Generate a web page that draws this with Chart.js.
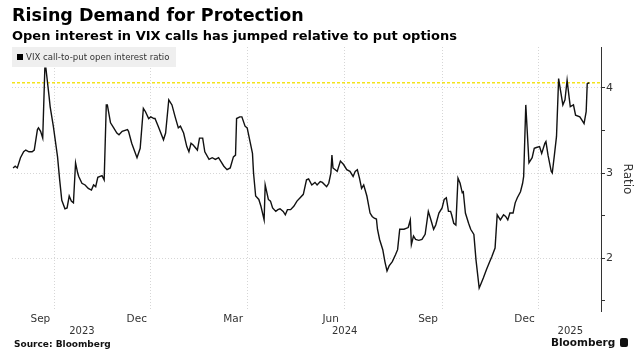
<!DOCTYPE html>
<html>
<head>
<meta charset="utf-8">
<script src="https://cdn.jsdelivr.net/npm/chart.js@4.4.0/dist/chart.umd.min.js"></script>
<style>
html,body{margin:0;padding:0;background:#fff;}
#wrap{position:relative;width:641px;height:363px;overflow:hidden;font-family:"DejaVu Sans",sans-serif;}
#chart{position:absolute;left:0;top:0;}
.title{position:absolute;left:12px;top:5px;font-size:17.5px;font-weight:bold;color:#000;white-space:nowrap;}
.subtitle{position:absolute;left:12px;top:28px;font-size:13px;font-weight:bold;color:#000;white-space:nowrap;}
.legend{position:absolute;left:12px;top:47px;width:164px;height:20px;background:#efefef;font-size:8.6px;color:#333;line-height:20px;white-space:nowrap;}
.legend i{display:inline-block;width:6px;height:6px;background:#000;margin:0 3px 0 5px;vertical-align:0px;}
.source{position:absolute;left:14px;top:339px;font-size:9px;font-weight:bold;color:#111;}
.brand{position:absolute;left:551px;top:336px;font-size:10.5px;font-weight:bold;color:#111;}
.logo{position:absolute;left:620px;top:338px;width:8px;height:9px;background:#111;border-radius:2px;}
</style>
</head>
<body>
<div id="wrap">
  <canvas id="chart" width="641" height="363"></canvas>
  <div class="title">Rising Demand for Protection</div>
  <div class="subtitle">Open interest in VIX calls has jumped relative to put options</div>
  <div class="legend"><i></i>VIX call-to-put open interest ratio</div>
  <div class="source">Source: Bloomberg</div>
  <div class="brand">Bloomberg</div>
  <div class="logo"></div>
</div>
<script>
// days counted from 1 Sep 2023
const dayIndex=[-39,-37,-35,-32,-29,-27,-24,-21,-19,-16,
-15,-13,-11,-9,-8,-5,-4,-1,3,5,
7,10,12,14,16,18,20,22,23,26,
29,32,35,37,39,41,45,47,49,50,
53,56,59,61,64,69,70,73,78,81,
84,86,89,91,94,95,98,103,105,108,
111,114,117,119,122,125,127,129,131,135,
137,140,142,146,149,152,155,157,160,163,
166,169,171,172,175,177,180,182,185,187,
188,190,193,195,198,199,202,204,206,209,
211,213,216,218,220,223,226,229,232,235,
238,240,243,246,248,251,253,257,259,261,
262,263,267,270,273,276,279,282,284,286,
288,290,292,295,298,300,302,304,305,307,
310,312,314,316,319,322,324,326,330,334,
336,337,339,341,344,347,350,353,355,358,
360,363,366,368,370,372,374,375,377,379,
381,383,385,386,388,391,393,396,398,401,
403,405,408,411,413,416,418,421,424,426,
428,430,433,435,437,440,442,443,445,448,
451,453,455,458,460,463,464,466,469,470,
472,474,476,477,480,482,484,486,487,490,
492,496,498,500,502,503,505]
const ratio=[3.06,3.08,3.06,3.18,3.25,3.27,3.25,3.25,3.27,3.51,
3.53,3.49,3.41,4.23,4.23,3.90,3.78,3.55,3.19,2.92,
2.68,2.58,2.59,2.73,2.67,2.65,3.12,3.00,2.96,2.88,
2.86,2.82,2.80,2.86,2.84,2.95,2.97,2.92,3.80,3.80,
3.59,3.53,3.47,3.45,3.49,3.51,3.49,3.35,3.18,3.29,
3.76,3.72,3.64,3.66,3.64,3.64,3.55,3.39,3.47,3.86,
3.80,3.66,3.53,3.55,3.47,3.31,3.25,3.35,3.33,3.27,
3.41,3.41,3.25,3.16,3.18,3.16,3.18,3.14,3.08,3.04,
3.06,3.19,3.21,3.64,3.66,3.66,3.55,3.53,3.35,3.23,
3.00,2.73,2.69,2.61,2.45,2.86,2.69,2.67,2.59,2.55,
2.57,2.58,2.55,2.51,2.57,2.57,2.61,2.67,2.71,2.75,
2.92,2.93,2.86,2.89,2.86,2.90,2.89,2.84,2.88,3.00,
3.21,3.06,3.02,3.14,3.10,3.04,3.02,2.96,3.02,3.04,
2.94,2.82,2.86,2.73,2.53,2.49,2.47,2.46,2.34,2.22,
2.10,1.96,1.85,1.91,1.96,2.04,2.10,2.34,2.34,2.36,
2.45,2.16,2.26,2.22,2.21,2.22,2.28,2.55,2.47,2.34,
2.39,2.53,2.59,2.69,2.71,2.55,2.55,2.51,2.41,2.39,
2.94,2.88,2.77,2.78,2.53,2.41,2.34,2.28,1.98,1.65,
1.71,1.77,1.87,1.96,2.02,2.12,2.51,2.45,2.51,2.49,
2.45,2.53,2.53,2.65,2.71,2.78,2.88,2.96,3.80,3.12,
3.18,3.29,3.30,3.31,3.23,3.35,3.37,3.21,3.02,3.00,
3.21,3.43,4.11,4.03,3.80,3.86,4.09,3.88,3.78,3.80,
3.68,3.66,3.62,3.58,3.72,4.05,4.06]
const latestRatio=4.06
const monthDays=[0,91,182,274,366,457]
const monthLabels=['Sep','Dec','Mar','Jun','Sep','Dec']
const yearDays=[26,274,487]
const yearLabels=['2023','2024','2025']
const yTicks=[1.5,2,2.5,3,3.5,4]
const xMin=-40, xMax=516
const yMin=1.38, yMax=4.48

let seriesPoints=dayIndex.map((d,i)=>({x:d,y:ratio[i]}))
let refPoints=[{x:xMin,y:latestRatio},{x:xMax,y:latestRatio}]

let chart=new Chart(document.getElementById('chart'),{
    type:'line',
    data:{
        datasets:[{
            label:'VIX call-to-put open interest ratio',
            data:seriesPoints,
            borderColor:'#111',
            borderWidth:1.4,
            pointRadius:0,
            tension:0,
            order:1
        },{
            label:'latest',
            data:refPoints,
            borderColor:'#f3e31c',
            borderWidth:1.5,
            borderDash:[3,2],
            pointRadius:0,
            order:2
        }]
    },
    options:{
        responsive:false,
        animation:false,
        layout:{padding:{left:12,top:47,right:0,bottom:25}},
        plugins:{legend:{display:false},tooltip:{enabled:false}},
        scales:{
            x:{
                type:'linear',min:xMin,max:xMax,position:'bottom',weight:0,
                afterBuildTicks:s=>{s.ticks=monthDays.map(v=>({value:v}))},
                afterFit:s=>{s.height=13},
                grid:{color:'#d6d6d6',drawTicks:false},
                border:{display:false,dash:[1,2]},
                ticks:{
                    autoSkip:false,maxRotation:0,padding:2,labelOffset:-14,
                    color:'#333',font:{family:'DejaVu Sans',size:10.5},
                    callback:(v,i)=>monthLabels[i]
                }
            },
            x2:{
                type:'linear',min:xMin,max:xMax,position:'bottom',weight:1,
                afterBuildTicks:s=>{s.ticks=yearDays.map(v=>({value:v}))},
                afterFit:s=>{s.height=14},
                grid:{display:false,drawTicks:false},
                border:{display:false},
                ticks:{
                    autoSkip:false,maxRotation:0,padding:1,
                    color:'#333',font:{family:'DejaVu Sans',size:10},
                    callback:(v,i)=>yearLabels[i]
                }
            },
            y:{
                type:'linear',min:yMin,max:yMax,position:'right',
                afterBuildTicks:s=>{s.ticks=yTicks.map(v=>({value:v}))},
                afterFit:s=>{s.width=40},
                grid:{
                    color:c=>Number.isInteger(c.tick.value)?'#d6d6d6':'rgba(0,0,0,0)',
                    tickColor:'#333',tickLength:4
                },
                border:{display:true,color:'#333',width:1,dash:[1,2]},
                ticks:{
                    padding:1,color:'#333',font:{family:'DejaVu Sans',size:11},
                    callback:v=>Number.isInteger(v)?v:''
                },
                title:{
                    display:true,text:'Ratio',color:'#333',
                    font:{family:'DejaVu Sans',size:12},
                    padding:{top:7,bottom:0}
                }
            }
        }
    }
})
</script>
</body>
</html>
